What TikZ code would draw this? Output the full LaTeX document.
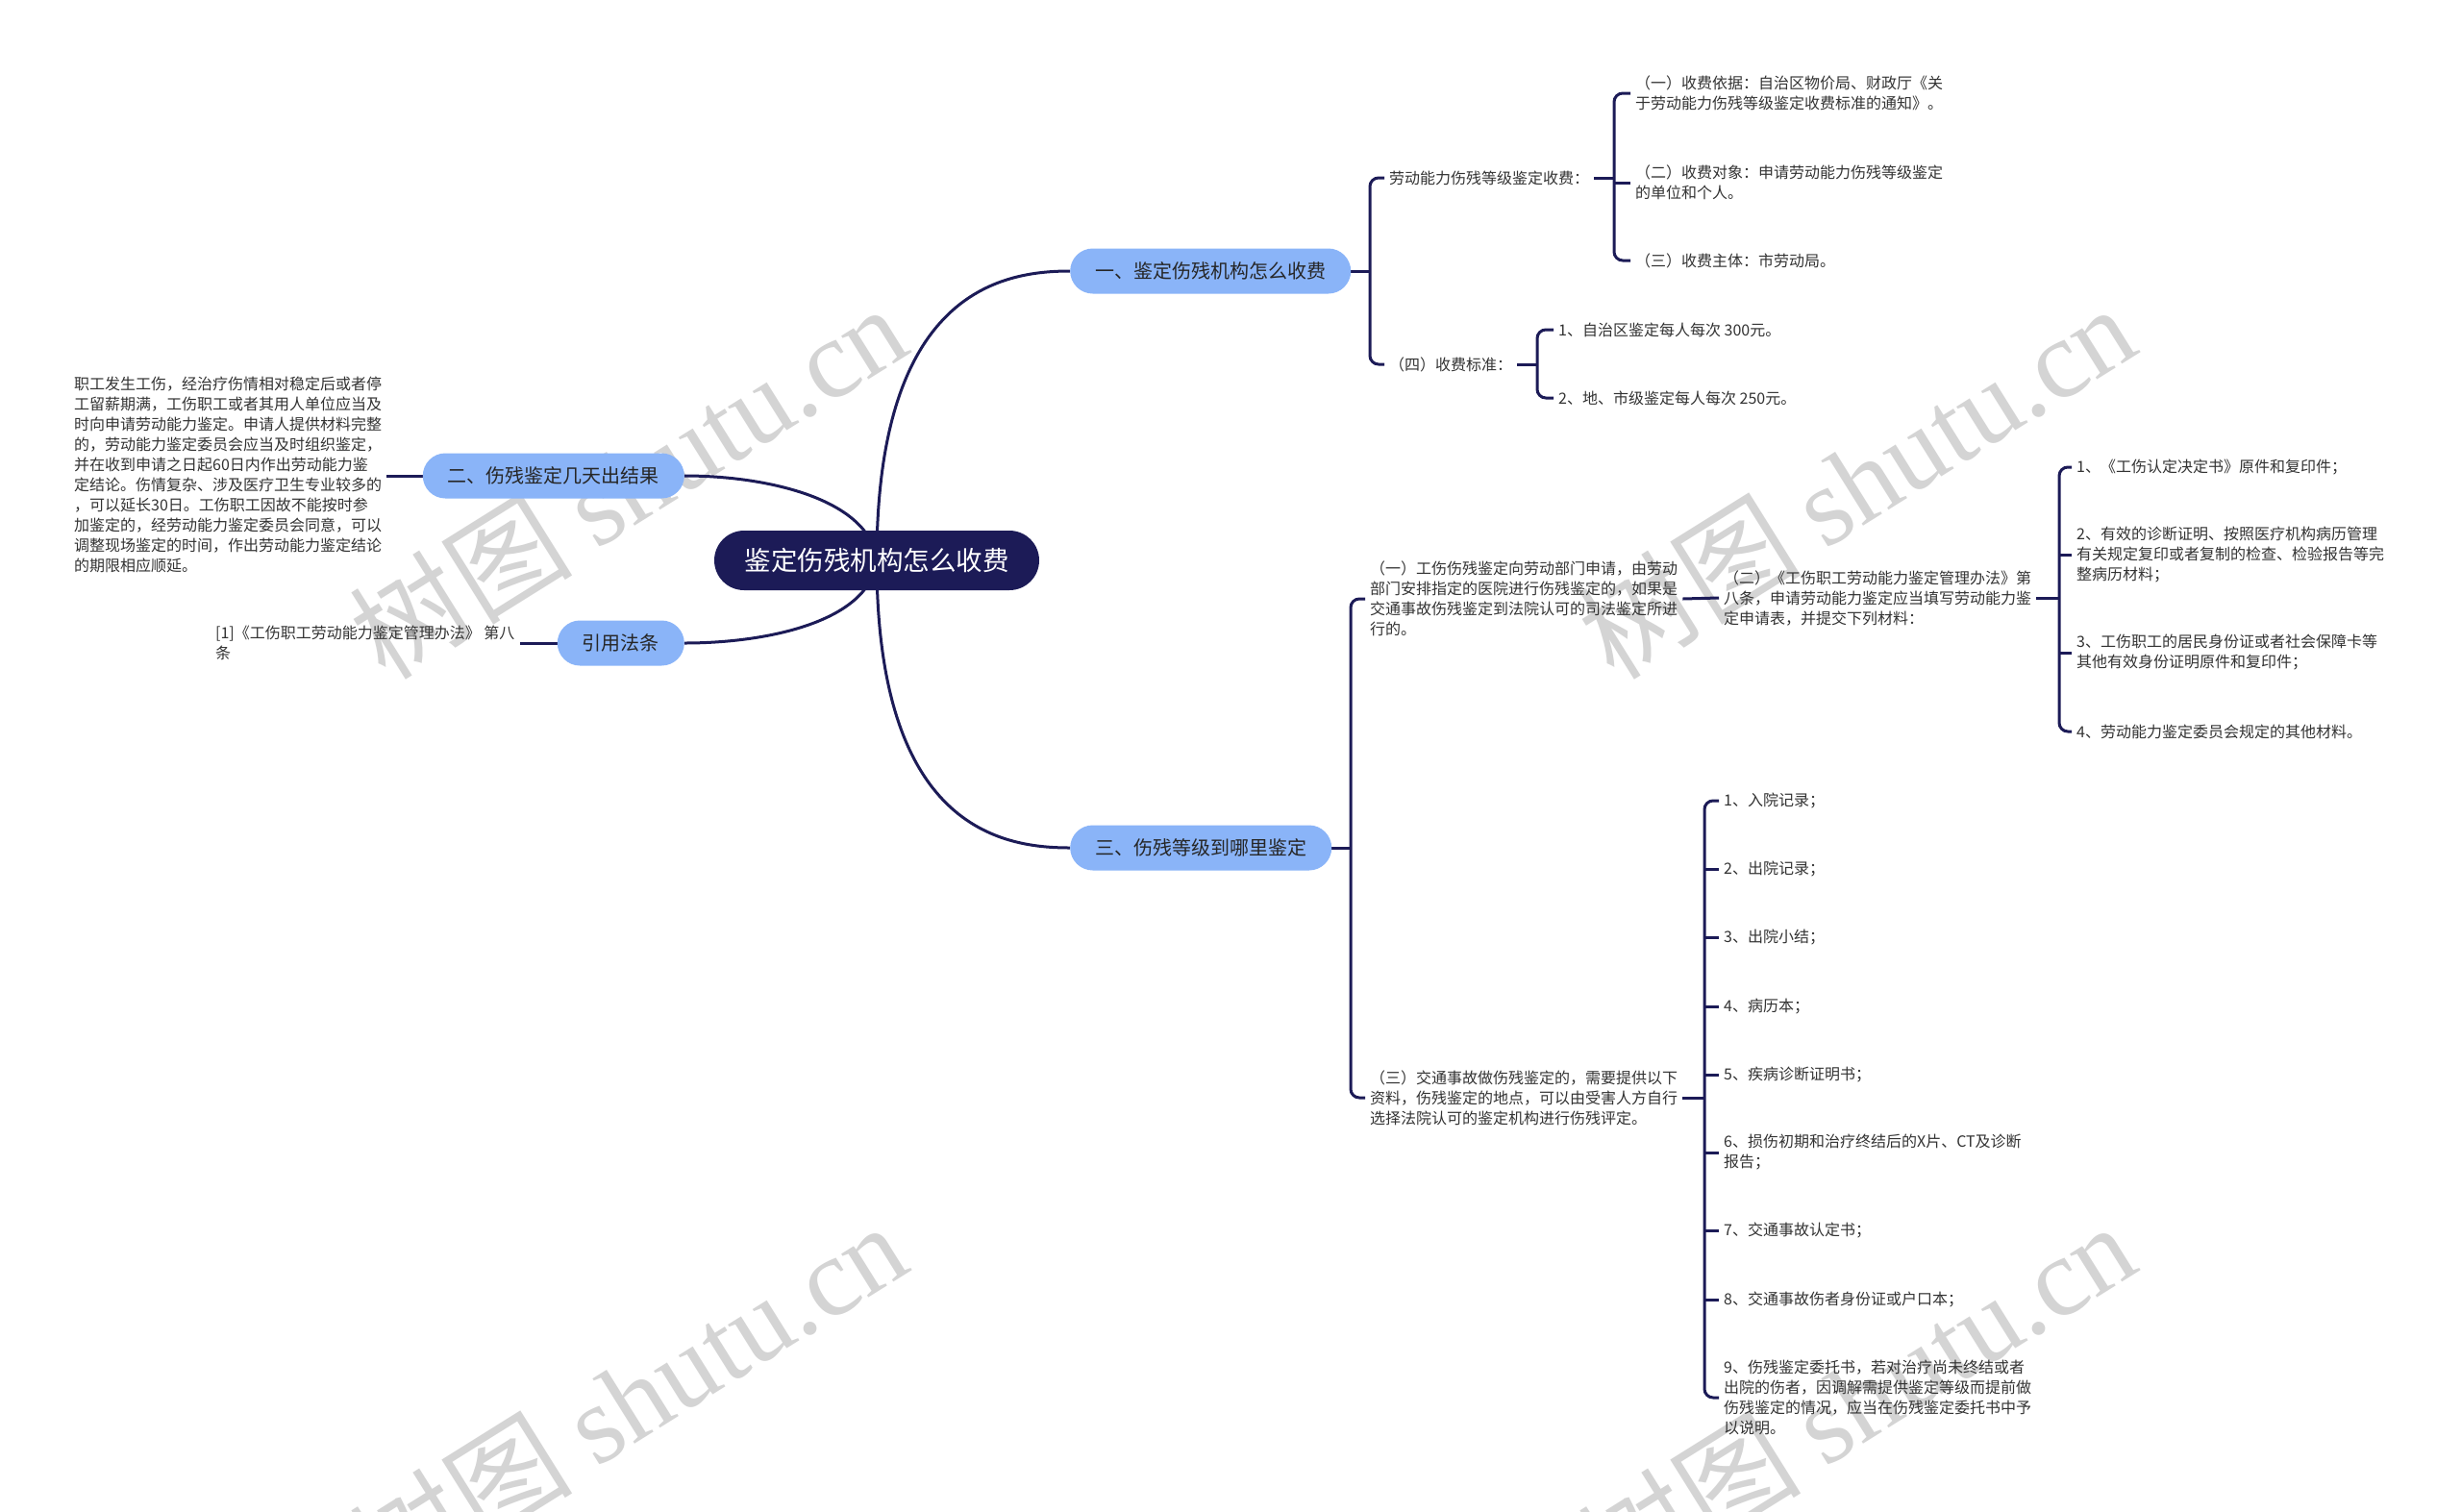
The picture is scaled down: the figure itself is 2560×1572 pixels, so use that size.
\documentclass[tikz,border=0pt]{standalone}
\usepackage{fontspec}
\setmainfont{Noto Sans CJK SC}
\newfontfamily\wmserif{Liberation Serif}
\usetikzlibrary{backgrounds}
\definecolor{navy}{HTML}{1C1B57}
\definecolor{pillblue}{HTML}{8AB4F8}
\definecolor{txt}{HTML}{333333}
\pgfdeclarelayer{wm}
\pgfsetlayers{wm,background,main}
\begin{document}
\begin{tikzpicture}[x=1pt,y=-1pt,
  rootnode/.style={fill=navy, text=white, rounded corners=31pt, minimum height=62pt, inner xsep=31.5pt, inner ysep=0pt, font=\fontsize{27.5}{33}\selectfont},
  branch/.style={fill=pillblue, text=black!85, rounded corners=23.5pt, minimum height=47pt, inner xsep=26pt, inner ysep=0pt, font=\fontsize{20}{24}\selectfont},
  leaf/.style={text=txt, align=left, inner xsep=5pt, inner ysep=2pt, anchor=west, font=\fontsize{16}{21}\selectfont},
  main/.style={draw=navy, line width=3pt},
  conn/.style={draw=navy, line width=3pt, rounded corners=9pt},
  wm/.style={text=black!17, rotate=32, font=\fontsize{116}{116}\selectfont},
]
\useasboundingbox (0,0) rectangle (2560,1572);

% watermarks
\begin{pgfonlayer}{wm}
\fill[white] (0,0) rectangle (2560,1572);
\node[wm] (w1) at (653,500) {树图 {\wmserif shutu.cn}};
\node[wm] (w2) at (1931,500) {树图 {\wmserif shutu.cn}};
\node[wm] (w3) at (653,1455) {树图 {\wmserif shutu.cn}};
\node[wm] (w4) at (1931,1455) {树图 {\wmserif shutu.cn}};
\end{pgfonlayer}

% root and branches
\node[rootnode] (root) at (912,583) {鉴定伤残机构怎么收费};
\node[branch, anchor=west] (b1) at (1113,282) {一、鉴定伤残机构怎么收费};
\node[branch, anchor=east] (b2) at (712,495) {二、伤残鉴定几天出结果};
\node[branch, anchor=east] (b3) at (712,669) {引用法条};
\node[branch, anchor=west] (b4) at (1113,882) {三、伤残等级到哪里鉴定};

% branch 1 leaves
\node[leaf] (n11) at (1440,185) {劳动能力伤残等级鉴定收费：};
\node[leaf] (n12) at (1440,379) {（四）收费标准：};
\node[leaf] (n111) at (1696,97) {（一）收费依据：自治区物价局、财政厅《关\\于劳动能力伤残等级鉴定收费标准的通知》。};
\node[leaf] (n112) at (1696,190) {（二）收费对象：申请劳动能力伤残等级鉴定\\的单位和个人。};
\node[leaf] (n113) at (1696,271) {（三）收费主体：市劳动局。};
\node[leaf] (n121) at (1616,343) {1、自治区鉴定每人每次 300元。};
\node[leaf] (n122) at (1616,414) {2、地、市级鉴定每人每次 250元。};

% branch 2 leaf
\node[leaf] (n21) at (72,494) {职工发生工伤，经治疗伤情相对稳定后或者停\\工留薪期满，工伤职工或者其用人单位应当及\\时向申请劳动能力鉴定。申请人提供材料完整\\的，劳动能力鉴定委员会应当及时组织鉴定，\\并在收到申请之日起60日内作出劳动能力鉴\\定结论。伤情复杂、涉及医疗卫生专业较多的\\，可以延长30日。工伤职工因故不能按时参\\加鉴定的，经劳动能力鉴定委员会同意，可以\\调整现场鉴定的时间，作出劳动能力鉴定结论\\的期限相应顺延。};

% branch 3 leaf
\node[leaf] (n31) at (219,669) {[1]《工伤职工劳动能力鉴定管理办法》 第八\\条};

% branch 4 leaves
\node[leaf] (n41) at (1420,623) {（一）工伤伤残鉴定向劳动部门申请，由劳动\\部门安排指定的医院进行伤残鉴定的，如果是\\交通事故伤残鉴定到法院认可的司法鉴定所进\\行的。};
\node[leaf] (n42) at (1420,1142) {（三）交通事故做伤残鉴定的，需要提供以下\\资料，伤残鉴定的地点，可以由受害人方自行\\选择法院认可的鉴定机构进行伤残评定。};
\node[leaf] (n411) at (1788,622) {（二）《工伤职工劳动能力鉴定管理办法》第\\八条，申请劳动能力鉴定应当填写劳动能力鉴\\定申请表，并提交下列材料：};
\node[leaf] (m1) at (2155,486) {1、《工伤认定决定书》原件和复印件；};
\node[leaf] (m2) at (2155,577) {2、有效的诊断证明、按照医疗机构病历管理\\有关规定复印或者复制的检查、检验报告等完\\整病历材料；};
\node[leaf] (m3) at (2155,679) {3、工伤职工的居民身份证或者社会保障卡等\\其他有效身份证明原件和复印件；};
\node[leaf] (m4) at (2155,761) {4、劳动能力鉴定委员会规定的其他材料。};
\node[leaf] (k1) at (1788,833) {1、入院记录；};
\node[leaf] (k2) at (1788,904) {2、出院记录；};
\node[leaf] (k3) at (1788,975) {3、出院小结；};
\node[leaf] (k4) at (1788,1047) {4、病历本；};
\node[leaf] (k5) at (1788,1118) {5、疾病诊断证明书；};
\node[leaf] (k6) at (1788,1199) {6、损伤初期和治疗终结后的X片、CT及诊断\\报告；};
\node[leaf] (k7) at (1788,1280) {7、交通事故认定书；};
\node[leaf] (k8) at (1788,1352) {8、交通事故伤者身份证或户口本；};
\node[leaf] (k9) at (1788,1454) {9、伤残鉴定委托书，若对治疗尚未终结或者\\出院的伤者，因调解需提供鉴定等级而提前做\\伤残鉴定的情况，应当在伤残鉴定委托书中予\\以说明。};

% spine coordinates
\coordinate (s1) at (1425,0);
\coordinate (s11) at (1679,0);
\coordinate (s12) at (1599,0);
\coordinate (s4) at (1405,0);
\coordinate (s41) at (2142,0);
\coordinate (s42) at (1773,0);

\begin{pgfonlayer}{background}
% main curves
\draw[main] (root.center) .. controls (912,305) and (1040,282) .. (b1.west);
\draw[main] (root.center) .. controls (912,860) and (1040,882) .. (b4.west);
\draw[main] (root.center) .. controls (905,520) and (800,495) .. (b2.east);
\draw[main] (root.center) .. controls (905,646) and (800,669) .. (b3.east);

% branch 1
\draw[conn] (b1.east) -- (b1.east -| s1);
\draw[conn] (n11.west) -| (n12.west -| s1) -- (n12.west);
\draw[conn] (n11.east) -- (n11.east -| s11);
\draw[conn] (n111.west) -| (n113.west -| s11) -- (n113.west);
\draw[conn] (n112.west) -- (n112.west -| s11);
\draw[conn] (n12.east) -- (n12.east -| s12);
\draw[conn] (n121.west) -| (n122.west -| s12) -- (n122.west);

% branch 2 and 3
\draw[conn] (b2.west) -- (b2.west -| n21.east);
\draw[conn] (b3.west) -- (b3.west -| n31.east);

% branch 4
\draw[conn] (b4.east) -- (b4.east -| s4);
\draw[conn] (n41.west) -| (n42.west -| s4) -- (n42.west);
\draw[conn] (n41.east) -- (n411.west);
\draw[conn] (n411.east) -- (n411.east -| s41);
\draw[conn] (m1.west) -| (m4.west -| s41) -- (m4.west);
\draw[conn] (m2.west) -- (m2.west -| s41);
\draw[conn] (m3.west) -- (m3.west -| s41);
\draw[conn] (n42.east) -- (n42.east -| s42);
\draw[conn] (k1.west) -| (k9.west -| s42) -- (k9.west);
\foreach \k in {k2,k3,k4,k5,k6,k7,k8} {\draw[conn] (\k.west) -- (\k.west -| s42);}
\end{pgfonlayer}
\end{tikzpicture}
\end{document}
